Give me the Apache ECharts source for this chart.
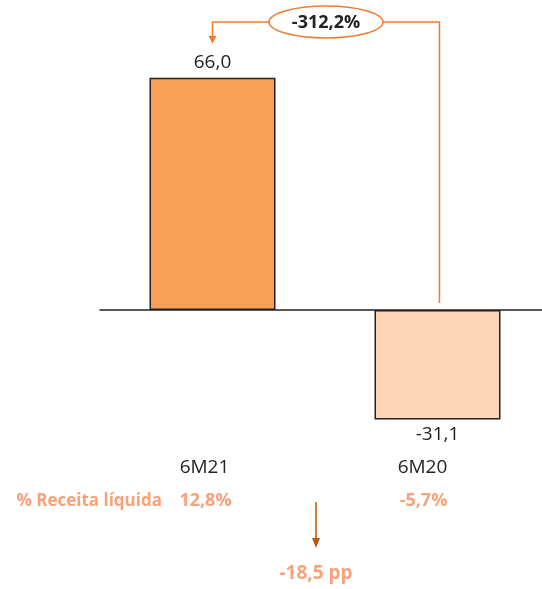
<!DOCTYPE html>
<html><head><meta charset="utf-8">
<script src="https://cdn.jsdelivr.net/npm/echarts@6/dist/echarts.min.js"></script>
<style>html,body{margin:0;padding:0;background:#fff}#c{width:542px;height:589px}</style>
</head><body><div id="c"></div>
<script>
const categories = ['6M21', '6M20'];
const values = [66.0, -31.1];
const marginPct = ['12,8%', '-5,7%'];
const marginLabel = '% Receita líquida';
const changeLabel = '-312,2%';
const ppLabel = '-18,5 pp';
const barColors = ['#F8A055', '#FCD6B7'];

const FONT = '"Open Sans", "Noto Sans", sans-serif';
const fmt = v => v.toFixed(1).replace('.', ',');

const chart = echarts.init(document.getElementById('c'), null, {renderer: 'canvas'});
const pxPerUnit = 3.52, yMin = -40, yMax = 80, zeroY = 310;
chart.setOption({
  animation: false,
  grid: {left: 100, width: 450, top: zeroY - yMax * pxPerUnit, height: (yMax - yMin) * pxPerUnit, outerBoundsMode: 'none', containLabel: false},
  xAxis: {
    type: 'category', data: categories,
    axisLine: {onZero: true, lineStyle: {color: '#222', width: 1.5}},
    axisTick: {show: false}, axisLabel: {show: false}
  },
  yAxis: {type: 'value', min: yMin, max: yMax, show: false, splitLine: {show: false}},
  series: [{
    type: 'bar', barWidth: 126,
    data: values.map((v, i) => ({
      value: v,
      itemStyle: {color: barColors[i]},
      label: {position: v >= 0 ? 'top' : 'bottom', distance: 6}
    })),
    itemStyle: {borderColor: '#222', borderWidth: 1.5},
    label: {show: true, fontFamily: FONT, fontSize: 19, color: '#222', formatter: p => fmt(p.value)}
  }]
});

const p1 = chart.convertToPixel({xAxisIndex: 0, yAxisIndex: 0}, [categories[0], values[0]]);
const p2 = chart.convertToPixel({xAxisIndex: 0, yAxisIndex: 0}, [categories[1], 0]);
const x1 = p1[0], x2 = p2[0] + 2, topY = 22;
const cx = (x1 + x2) / 2;
const orange = '#ED7D31', dark = '#C0560F', lightText = '#F6A27A';
const labelShift = [-8, -15];
const catX = [p1[0] + labelShift[0], p2[0] + labelShift[1]];
const midX = (p1[0] + p2[0]) / 2 - 9;
const g = [
  {type: 'polyline', shape: {points: [[x2, zeroY - 7], [x2, topY], [cx + 57, topY]]}, style: {stroke: orange, lineWidth: 1.5, fill: null}},
  {type: 'polyline', shape: {points: [[cx - 57, topY], [x1, topY], [x1, p1[1] - 42]]}, style: {stroke: orange, lineWidth: 1.5, fill: null}},
  {type: 'polygon', shape: {points: [[x1 - 4, p1[1] - 42], [x1 + 4, p1[1] - 42], [x1, p1[1] - 34]]}, style: {fill: orange}},
  {type: 'ellipse', shape: {cx: cx, cy: topY, rx: 57, ry: 16}, style: {stroke: orange, lineWidth: 1.5, fill: '#fff'}},
  {type: 'text', x: cx, y: topY + 1, style: {text: changeLabel, fontFamily: FONT, fontSize: 18, fontWeight: 'bold', fill: '#222', align: 'center', verticalAlign: 'middle'}},
  {type: 'text', x: 162, y: 501, style: {text: marginLabel, fontFamily: FONT, fontSize: 17, fontWeight: 'bold', fill: lightText, align: 'right', verticalAlign: 'middle'}},
  {type: 'line', shape: {x1: midX, y1: 502, x2: midX, y2: 540}, style: {stroke: dark, lineWidth: 1.5}},
  {type: 'polygon', shape: {points: [[midX - 4, 538], [midX + 4, 538], [midX, 548]]}, style: {fill: dark}},
  {type: 'text', x: midX, y: 574, style: {text: ppLabel, fontFamily: FONT, fontSize: 19, fontWeight: 'bold', fill: lightText, align: 'center', verticalAlign: 'middle'}}
];
categories.forEach((c, i) => {
  g.push({type: 'text', x: catX[i], y: 468, style: {text: c, fontFamily: FONT, fontSize: 19, fill: '#222', align: 'center', verticalAlign: 'middle'}});
  g.push({type: 'text', x: catX[i] + 1, y: 501, style: {text: marginPct[i], fontFamily: FONT, fontSize: 18, fontWeight: 'bold', fill: lightText, align: 'center', verticalAlign: 'middle'}});
});
chart.setOption({graphic: g});
</script></body></html>
